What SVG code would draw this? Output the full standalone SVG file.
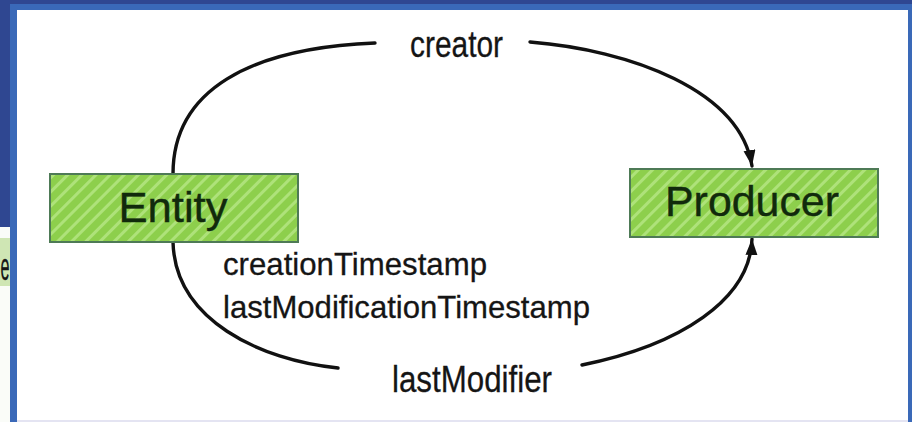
<svg xmlns="http://www.w3.org/2000/svg" width="912" height="422" viewBox="0 0 912 422">
  <defs>
    <pattern id="hatch" width="10" height="10" patternUnits="userSpaceOnUse" patternTransform="rotate(45)">
      <rect width="10" height="10" fill="#8dcf4c"/>
      <rect width="3" height="10" fill="#aee27a"/>
    </pattern>
    <marker id="arrow" markerUnits="userSpaceOnUse" markerWidth="18" markerHeight="14" refX="16" refY="6" orient="auto">
      <path d="M0,0 L16,6 L0,12 Z" fill="#111"/>
    </marker>
    <style>
      .node rect { fill: url(#hatch); stroke: #4e7a56; stroke-width: 2; }
      .node text { font-family: "Liberation Sans", Arial, sans-serif; font-size: 42px; fill: #112a0c; text-anchor: middle; stroke: #112a0c; stroke-width: 0.4; }
      .lbl { font-family: "Liberation Sans", Arial, sans-serif; fill: #151515; stroke: #151515; stroke-width: 0.3; }
      .edge { fill: none; stroke: #111; stroke-width: 3.4; stroke-linecap: round; }
    </style>
  </defs>

  <!-- background frame -->
  <rect x="0" y="0" width="912" height="422" fill="#2f4791"/>
  <rect x="0" y="227" width="10" height="195" fill="#fafcf8"/>
  <rect x="0" y="238" width="10" height="48" fill="#cfe6b4"/>
  <text x="0.5" y="280" class="lbl" font-size="38" fill="#1d3a12" textLength="9" lengthAdjust="spacingAndGlyphs">e</text>
  <rect x="10" y="4" width="902" height="418" fill="#3a69b8"/>
  <rect x="17" y="10" width="891" height="412" fill="#ffffff"/>
  <rect x="17" y="420" width="891" height="2" fill="#e4e4f2"/>

  <!-- connectors -->
  <g id="connectors">
    <path class="edge" d="M173,174 C173,90 250,48 375,43"/>
    <path class="edge" d="M530,42 C630,50 740,90 752,166" marker-end="url(#arrow)"/>
    <path class="edge" d="M173,242 C175,320 260,360 338,368"/>
    <path class="edge" d="M582,365 C680,345 750,300 752,239" marker-end="url(#arrow)"/>
  </g>

  <!-- labels -->
  <g id="labels">
    <text class="lbl" x="410" y="57" font-size="37" textLength="93" lengthAdjust="spacingAndGlyphs">creator</text>
    <text class="lbl" x="223" y="275" font-size="32" textLength="264" lengthAdjust="spacingAndGlyphs">creationTimestamp</text>
    <text class="lbl" x="223" y="318" font-size="32" textLength="367" lengthAdjust="spacingAndGlyphs">lastModificationTimestamp</text>
    <text class="lbl" x="392" y="392" font-size="37" textLength="160" lengthAdjust="spacingAndGlyphs">lastModifier</text>
  </g>

  <!-- nodes -->
  <g id="entity" class="node">
    <rect x="50" y="174" width="248" height="68"/>
    <text x="173" y="222" textLength="109" lengthAdjust="spacingAndGlyphs">Entity</text>
  </g>
  <g id="producer" class="node">
    <rect x="630" y="169" width="248" height="68"/>
    <text x="752" y="216" textLength="174" lengthAdjust="spacingAndGlyphs">Producer</text>
  </g>
</svg>
